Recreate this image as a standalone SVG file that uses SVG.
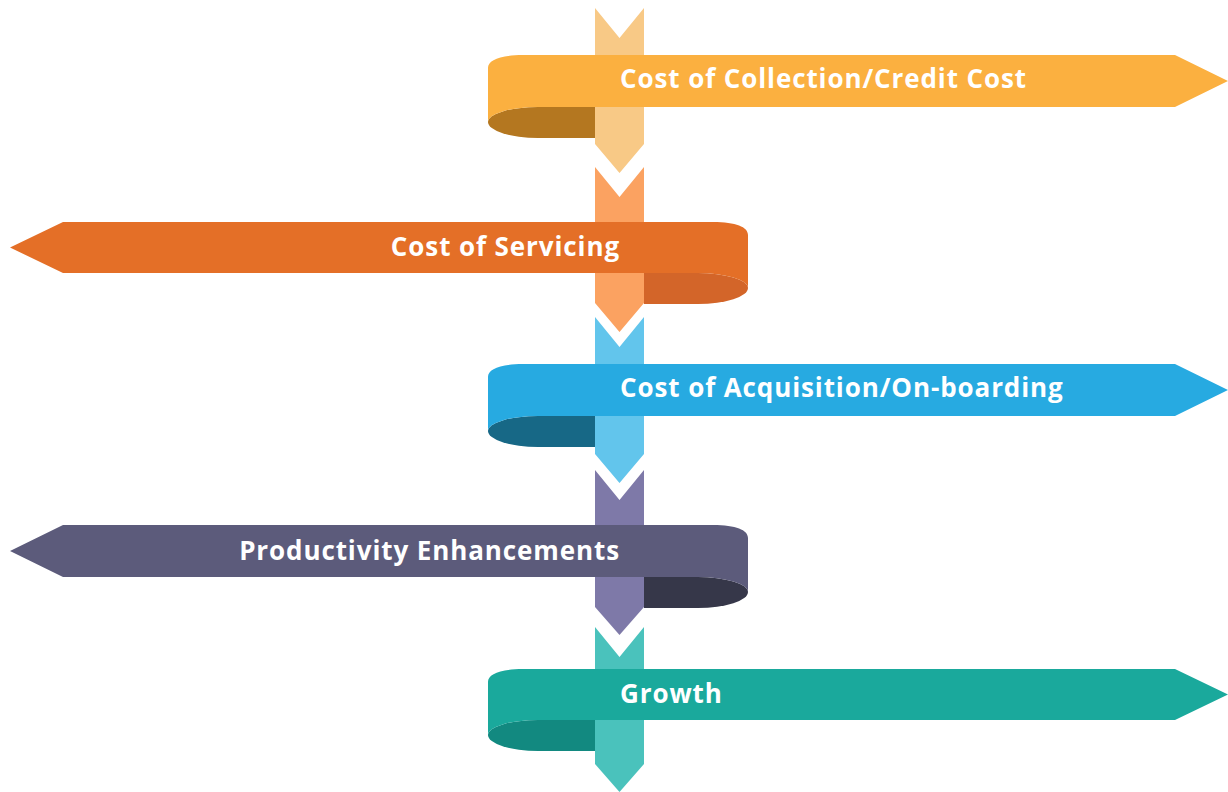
<svg xmlns="http://www.w3.org/2000/svg" width="1228" height="792" viewBox="0 0 1228 792">
<style>
.lbl{font-family:"Open Sans","Liberation Sans",sans-serif;font-weight:700;font-size:26px;letter-spacing:0.9px;fill:#ffffff}
.end{text-anchor:end}
</style>
<rect width="1228" height="792" fill="#ffffff"/>
<g id="node-collection">
<path d="M595,107 L538,107 A50,15 0 0 0 488,122 A50,16 0 0 0 538,138 L595,138 Z" fill="#B47720"/>
<path d="M595,8 L619.5,38 L644,8 L644,144 L619.5,173 L595,144 Z" fill="#F8C986"/>
<path d="M523,55 L1175,55 L1228,81 L1175,107 L538,107 A50,15 0 0 0 488,122 L488,68 C488,60 500,55 523,55 Z" fill="#FBB040"/>
<text class="lbl" x="620" y="88">Cost of Collection/Credit Cost</text>
</g>
<g id="node-servicing">
<path d="M644,273 L698,273 A50,15 0 0 1 748,288 A50,16 0 0 1 698,304 L644,304 Z" fill="#D36529"/>
<path d="M595,167 L619.5,197 L644,167 L644,303 L619.5,332 L595,303 Z" fill="#FBA261"/>
<path d="M713,222 L63,222 L10,247.5 L63,273 L698,273 A50,15 0 0 1 748,288 L748,235 C748,227 736,222 713,222 Z" fill="#E46F27"/>
<text class="lbl end" x="620" y="256">Cost of Servicing</text>
</g>
<g id="node-acquisition">
<path d="M595,416 L538,416 A50,15 0 0 0 488,431 A50,16 0 0 0 538,447 L595,447 Z" fill="#176886"/>
<path d="M595,317 L619.5,347 L644,317 L644,454 L619.5,483 L595,454 Z" fill="#62C5EC"/>
<path d="M523,364 L1175,364 L1228,390 L1175,416 L538,416 A50,15 0 0 0 488,431 L488,377 C488,369 500,364 523,364 Z" fill="#27AAE1"/>
<text class="lbl" x="620" y="397">Cost of Acquisition/On-boarding</text>
</g>
<g id="node-productivity">
<path d="M644,577 L698,577 A50,15 0 0 1 748,592 A50,16 0 0 1 698,608 L644,608 Z" fill="#363749"/>
<path d="M595,470 L619.5,500 L644,470 L644,607 L619.5,635 L595,607 Z" fill="#7E79A8"/>
<path d="M713,525 L63,525 L10,551 L63,577 L698,577 A50,15 0 0 1 748,592 L748,538 C748,530 736,525 713,525 Z" fill="#5C5B7B"/>
<text class="lbl end" x="620" y="560">Productivity Enhancements</text>
</g>
<g id="node-growth">
<path d="M595,720 L538,720 A50,15 0 0 0 488,735 A50,16 0 0 0 538,751 L595,751 Z" fill="#128980"/>
<path d="M595,627 L619.5,657 L644,627 L644,764 L619.5,792 L595,764 Z" fill="#4AC2BC"/>
<path d="M523,669 L1175,669 L1228,694.5 L1175,720 L538,720 A50,15 0 0 0 488,735 L488,682 C488,674 500,669 523,669 Z" fill="#1AA99C"/>
<text class="lbl" x="620" y="703">Growth</text>
</g>
<g id="connectors"></g>
</svg>
